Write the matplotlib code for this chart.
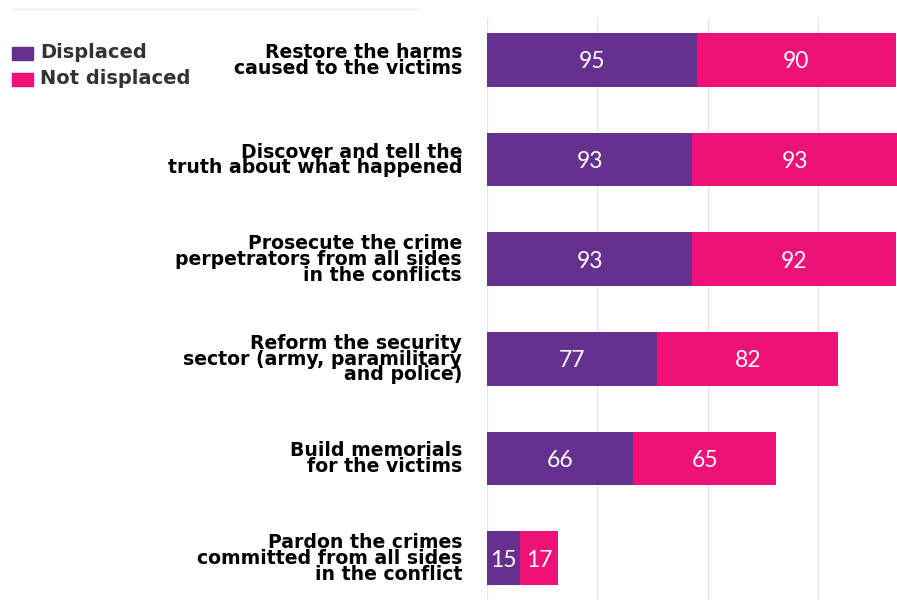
import numpy as np
import matplotlib.pyplot as plt

categories = [
    "Restore the harms\ncaused to the victims",
    "Discover and tell the\ntruth about what happened",
    "Prosecute the crime\nperpetrators from all sides\nin the conflicts",
    "Reform the security\nsector (army, paramilitary\nand police)",
    "Build memorials\nfor the victims",
    "Pardon the crimes\ncommitted from all sides\nin the conflict",
]
displaced = [95, 93, 93, 77, 66, 15]
not_displaced = [90, 93, 92, 82, 65, 17]
series_names = ["Displaced", "Not displaced"]

PURPLE = "#66308f"
PINK = "#ee1177"

plt.rcParams['font.family'] = ['Lato', 'DejaVu Sans']

fig = plt.figure(figsize=(8.97, 6), dpi=100)
ax = fig.add_axes([487 / 897, 0, 410 / 897, 582 / 600])

y = np.arange(len(categories))
ax.barh(y, displaced, height=0.54, color=PURPLE, zorder=2)
ax.barh(y, not_displaced, left=displaced, height=0.54, color=PINK, zorder=2)

# value labels centred in each segment
for i in range(len(categories)):
    ax.text(displaced[i] / 2, y[i] + 0.02, str(displaced[i]), color="white",
            ha="center", va="center", fontsize=16.5, zorder=3)
    ax.text(displaced[i] + not_displaced[i] / 2, y[i] + 0.02, str(not_displaced[i]),
            color="white", ha="center", va="center", fontsize=16.5, zorder=3)

ax.set_xlim(0, 185.6)
ax.set_ylim(len(categories) - 0.58, -0.42)
ax.set_xticks([0, 50, 100, 150])
ax.xaxis.grid(True, color="#e6e6e6", linewidth=1, zorder=0)
ax.tick_params(axis="x", length=0, labelbottom=False)
ax.tick_params(axis="y", length=0, pad=18)
ax.set_yticks(y)
ax.set_yticklabels(categories, fontsize=13.6, fontweight="bold",
                   linespacing=0.78, ha="right", family="DejaVu Sans")
for s in ax.spines.values():
    s.set_visible(False)

# legend drawn by hand at top left
fig.add_artist(plt.Line2D([12 / 897, 417 / 897], [1 - 9 / 600, 1 - 9 / 600],
                          color="#eeeeee", linewidth=1))
for k, (name, col) in enumerate(zip(series_names, [PURPLE, PINK])):
    yc = 53 + k * 26
    fig.add_artist(plt.Rectangle((12 / 897, 1 - (yc + 7) / 600), 21 / 897, 13 / 600,
                                 color=col, transform=fig.transFigure))
    fig.text(40 / 897, 1 - yc / 600, name, fontsize=14, fontweight="bold",
             color="#333333", va="center", ha="left", family="DejaVu Sans")

fig.savefig("out.png", dpi=100)
